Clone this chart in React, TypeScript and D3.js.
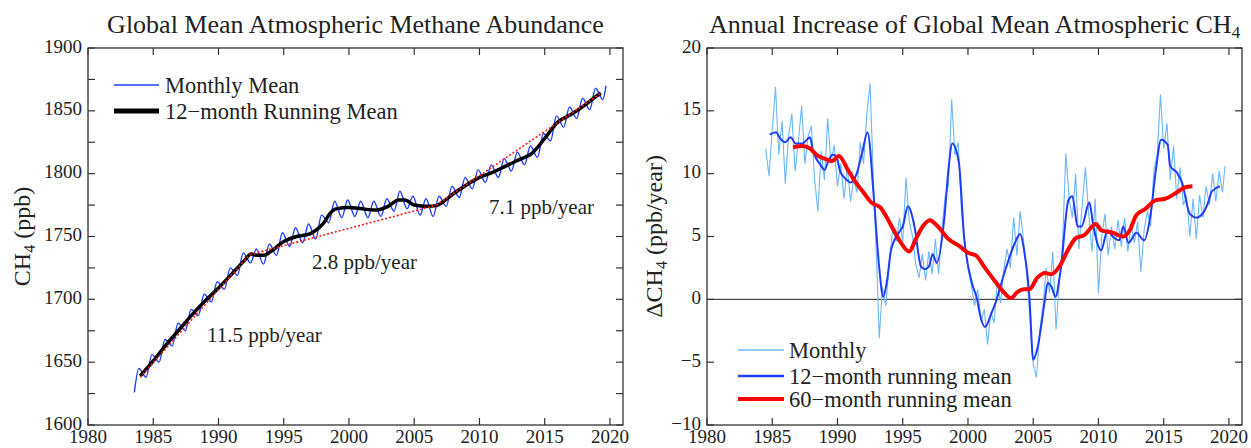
import * as d3 from 'd3';

const W = 1251;
const H = 448;
const FONT = '"Liberation Serif", "Times New Roman", serif';

// ---- left panel: global mean CH4 (ppb) ----
const ch4MonthYears = [
  1983.55, 1983.9, 1984.45, 1984.9, 1985.45, 1985.9, 1986.45, 1986.9, 1987.45, 1987.9,
  1988.45, 1988.9, 1989.45, 1989.9, 1990.45, 1990.9, 1991.45, 1991.9, 1992.45, 1992.9,
  1993.45, 1993.9, 1994.45, 1994.9, 1995.45, 1995.9, 1996.45, 1996.9, 1997.45, 1997.9,
  1998.45, 1998.9, 1999.45, 1999.9, 2000.45, 2000.9, 2001.45, 2001.9, 2002.45, 2002.9,
  2003.45, 2003.9, 2004.45, 2004.9, 2005.45, 2005.9, 2006.45, 2006.9, 2007.45, 2007.9,
  2008.45, 2008.9, 2009.45, 2009.9, 2010.45, 2010.9, 2011.45, 2011.9, 2012.45, 2012.9,
  2013.45, 2013.9, 2014.45, 2014.9, 2015.45, 2015.9, 2016.45, 2016.9, 2017.45, 2017.9,
  2018.45, 2018.9, 2019.45, 2019.7,
];
const ch4Monthly = [
  1626, 1645, 1638, 1656, 1650, 1668, 1663, 1681, 1675, 1692,
  1687, 1704, 1698, 1714, 1708, 1725, 1719, 1737, 1729, 1740,
  1728, 1744, 1735, 1753, 1742, 1757, 1745, 1760, 1748, 1767,
  1761, 1778, 1765, 1779, 1766, 1778, 1765, 1778, 1766, 1780,
  1770, 1786, 1772, 1782, 1767, 1780, 1766, 1782, 1774, 1790,
  1781, 1797, 1788, 1803, 1793, 1807, 1797, 1812, 1802, 1817,
  1807, 1822, 1813, 1832, 1826, 1846, 1837, 1853, 1844, 1860,
  1851, 1868, 1859, 1870,
];

// 12-month running mean
const ch4RunYears = [
  1984.0, 1985.0, 1986.0, 1987.0, 1988.0, 1989.0, 1990.0, 1991.0, 1992.0, 1992.5,
  1993.0, 1993.5, 1994.0, 1995.0, 1996.0, 1997.0, 1997.6, 1998.0, 1998.6, 1999.0,
  2000.0, 2001.0, 2002.0, 2003.0, 2003.8, 2004.3, 2005.0, 2006.0, 2006.8, 2007.5,
  2008.0, 2009.0, 2010.0, 2011.0, 2012.0, 2013.0, 2014.0, 2015.0, 2016.0, 2017.0,
  2018.0, 2019.0, 2019.3,
];
const ch4Running = [
  1639, 1651, 1664, 1676, 1688, 1699, 1709, 1720, 1731, 1736,
  1735, 1735, 1738, 1746, 1750, 1752, 1756, 1760, 1769, 1772,
  1773, 1772, 1771, 1774, 1779, 1779, 1775, 1774, 1775, 1780,
  1784, 1791, 1797, 1801, 1806, 1811, 1816, 1828, 1841, 1847,
  1854, 1862, 1864,
];

// linear trend segments (red dotted)
const trendYears = [1984.0, 1992.4, 2006.7, 2019.3];
const trendValues = [1638, 1735.5, 1775, 1864];
const trendLabels = ['11.5 ppb/year', '2.8 ppb/year', '7.1 ppb/year'];

// ---- right panel: annual increase (ppb/year) ----
const rateMonthYears = [
  1984.5, 1984.75, 1985.0, 1985.25, 1985.5, 1985.75, 1986.0, 1986.25, 1986.5, 1986.75,
  1987.0, 1987.25, 1987.5, 1987.75, 1988.0, 1988.25, 1988.5, 1988.75, 1989.0, 1989.25,
  1989.5, 1989.75, 1990.0, 1990.25, 1990.5, 1990.75, 1991.0, 1991.25, 1991.5, 1991.75,
  1992.0, 1992.25, 1992.5, 1992.75, 1993.0, 1993.2, 1993.45, 1993.7, 1994.0, 1994.25,
  1994.5, 1994.75, 1995.0, 1995.25, 1995.5, 1995.75, 1996.0, 1996.25, 1996.5, 1996.75,
  1997.0, 1997.25, 1997.5, 1997.75, 1998.0, 1998.25, 1998.5, 1998.75, 1999.0, 1999.25,
  1999.5, 1999.75, 2000.0, 2000.25, 2000.5, 2000.75, 2001.0, 2001.25, 2001.5, 2001.75,
  2002.0, 2002.25, 2002.5, 2002.75, 2003.0, 2003.25, 2003.5, 2003.75, 2004.0, 2004.25,
  2004.5, 2004.75, 2005.0, 2005.25, 2005.5, 2005.75, 2006.0, 2006.25, 2006.5, 2006.75,
  2007.0, 2007.25, 2007.5, 2007.75, 2008.0, 2008.25, 2008.5, 2008.75, 2009.0, 2009.25,
  2009.5, 2009.75, 2010.0, 2010.25, 2010.5, 2010.75, 2011.0, 2011.25, 2011.5, 2011.75,
  2012.0, 2012.25, 2012.5, 2012.75, 2013.0, 2013.25, 2013.5, 2013.75, 2014.0, 2014.25,
  2014.5, 2014.75, 2015.0, 2015.25, 2015.5, 2015.75, 2016.0, 2016.25, 2016.5, 2016.75,
  2017.0, 2017.25, 2017.5, 2017.75, 2018.0, 2018.25, 2018.5, 2018.75, 2019.0, 2019.25,
  2019.5, 2019.7,
];
const rateMonthly = [
  12.0, 9.8, 13.5, 16.9, 11.5, 14.2, 9.2, 13.0, 14.8, 10.2,
  12.5, 15.4, 10.8, 13.0, 13.8, 9.5, 7.0, 11.8, 9.5, 14.4,
  10.8, 12.3, 9.0, 10.8, 8.0, 10.5, 7.8, 9.6, 8.5, 12.5,
  10.8, 14.8, 17.2, 9.5, 3.0, -3.1, 1.0, -0.5, 3.2, 5.8,
  4.6, 6.5, 4.5, 9.7, 6.2, 5.0, 2.8, 1.7, 3.6, 1.5,
  3.8, 2.0, 4.8, 2.0, 5.5, 8.2, 9.0, 15.9, 11.5, 12.5,
  7.0, 4.5, 2.5, 1.2, -0.5, 0.8, -1.8, -0.8, -3.6, -1.0,
  -1.9, 1.5, -0.3, 2.4, 4.0, 2.5, 6.5, 3.5, 7.0, 4.8,
  2.0, -1.5, -5.2, -6.2, -2.5, -0.5, 2.5, 0.5, 3.8, -2.4,
  1.5, 4.5, 11.6, 8.0, 6.5, 10.0, 4.0, 7.5, 10.5, 6.8,
  3.8, 8.0, 0.5, 5.0, 6.8, 3.5, 5.8, 4.0, 6.3, 4.2,
  6.5, 3.8, 6.0, 4.5, 6.2, 2.2, 5.5, 7.0, 5.8, 10.3,
  11.5, 16.3, 12.0, 14.0, 9.5, 12.2, 8.0, 10.5, 7.5, 8.2,
  5.0, 8.0, 4.8, 8.3, 6.5, 9.0, 7.5, 10.0, 7.8, 10.2,
  8.5, 10.6,
];

const rate12Years = [
  1984.8, 1985.3, 1985.6, 1986.0, 1986.4, 1986.8, 1987.3, 1987.9, 1988.1, 1988.7,
  1989.0, 1989.3, 1989.6, 1989.9, 1990.2, 1990.6, 1991.0, 1991.4, 1991.9, 1992.3,
  1992.8, 1993.2, 1993.5, 1993.8, 1994.1, 1994.7, 1995.0, 1995.4, 1995.9, 1996.4,
  1996.7, 1997.0, 1997.3, 1997.6, 1998.2, 1998.5, 1998.8, 1999.3, 1999.7, 2000.3,
  2000.7, 2000.9, 2001.3, 2001.8, 2002.2, 2002.7, 2003.1, 2003.6, 2004.0, 2004.3,
  2004.7, 2005.0, 2005.3, 2005.9, 2006.1, 2006.4, 2006.7, 2007.1, 2007.7, 2008.0,
  2008.4, 2008.7, 2009.3, 2009.6, 2010.2, 2010.7, 2011.1, 2011.6, 2011.9, 2012.3,
  2012.9, 2013.5, 2014.0, 2014.4, 2014.8, 2015.3, 2015.5, 2016.0, 2016.4, 2017.0,
  2017.5, 2018.1, 2018.4, 2018.7, 2019.3,
];
const rate12 = [
  13.1, 13.3, 12.8, 12.5, 12.9, 12.4, 12.4, 12.9, 11.9, 10.7,
  10.3, 11.0, 11.5, 11.4, 10.2, 9.6, 9.3, 9.8, 11.7, 13.3,
  7.9, 2.5, 0.2, 1.5, 3.9, 5.3, 5.8, 7.4, 5.8, 2.6,
  2.4, 2.6, 3.6, 2.9, 6.6, 10.3, 12.4, 10.9, 5.0, 1.3,
  0.0, -1.1, -2.2, -1.1, 0.0, 1.8, 3.1, 4.5, 5.2, 3.9,
  0.3, -4.8, -4.0, 0.0, 1.3, 1.0, 0.2, 2.3, 7.9, 8.2,
  5.8, 5.8, 7.7, 5.9, 3.9, 5.5, 5.0, 4.7, 5.8, 4.5,
  5.3, 4.7, 6.8, 10.3, 12.7, 12.3, 10.6, 10.1, 9.3, 6.8,
  6.5, 7.0, 7.7, 8.6, 9.0,
];

const rate60Years = [
  1986.6, 1987.3, 1987.9, 1988.4, 1989.0, 1989.6, 1990.1, 1990.8, 1991.4, 1992.0,
  1992.6, 1993.3, 1994.1, 1994.8, 1995.5, 1996.0, 1996.6, 1997.1, 1997.6, 1998.5,
  1999.4, 2000.0, 2000.6, 2001.3, 2002.1, 2002.8, 2003.3, 2003.8, 2004.3, 2004.7,
  2005.3, 2005.9, 2006.4, 2007.0, 2007.7, 2008.3, 2008.9, 2009.8, 2010.2, 2011.1,
  2011.9, 2012.4, 2012.9, 2013.6, 2014.4, 2015.1, 2016.0, 2016.6, 2017.2,
];
const rate60 = [
  12.1, 12.2, 12.0, 11.5, 11.2, 11.0, 11.4, 10.3, 9.3, 8.5,
  7.7, 7.3, 5.9, 4.6, 3.8, 4.8, 5.9, 6.3, 5.9, 4.8,
  4.2, 3.7, 3.5, 2.5, 1.4, 0.5, 0.1, 0.6, 0.8, 0.8,
  1.7, 2.1, 2.0, 2.6, 4.0, 4.9, 5.1, 6.0, 5.5, 5.3,
  5.0, 5.5, 6.7, 7.2, 7.9, 8.0, 8.5, 8.9, 9.0,
];

const xTicks = [1980, 1985, 1990, 1995, 2000, 2005, 2010, 2015, 2020];
const leftYLabels = [1600, 1650, 1700, 1750, 1800, 1850, 1900];
const rightYLabels = [-10, -5, 0, 5, 10, 15, 20];

const TICK = 7;
const FRAME = '#333';
const INK = '#222';

const zip = (xs: number[], ys: number[]) => xs.map((x, i) => [x, ys[i]] as [number, number]);
const fmtMinus = (v: number) => (v < 0 ? '\u2212' + Math.abs(v) : String(v));

function Frame({ x, y, yTicks, yLabels, fmt }: any) {
  const [x0, x1] = x.range();
  const [y0, y1] = y.range();
  return (
    <g fontFamily={FONT}>
      <rect x={x0} y={y1} width={x1 - x0} height={y0 - y1} fill="none" stroke={FRAME} strokeWidth={1.3} />
      {xTicks.map(t => (
        <g key={'x' + t}>
          <line x1={x(t)} x2={x(t)} y1={y0} y2={y0 - TICK} stroke={FRAME} strokeWidth={1.2} />
          <line x1={x(t)} x2={x(t)} y1={y1} y2={y1 + TICK} stroke={FRAME} strokeWidth={1.2} />
          <text x={x(t)} y={443} textAnchor="middle" fontSize={19} fill={INK}>{t}</text>
        </g>
      ))}
      {yTicks.map((t: number) => (
        <g key={'y' + t}>
          <line x1={x0} x2={x0 + TICK} y1={y(t)} y2={y(t)} stroke={FRAME} strokeWidth={1.2} />
          <line x1={x1} x2={x1 - TICK} y1={y(t)} y2={y(t)} stroke={FRAME} strokeWidth={1.2} />
        </g>
      ))}
      {yLabels.map((t: number) => (
        <text key={'l' + t} x={x0 - 6} y={y(t) - 2} dy="0.35em" textAnchor="end" fontSize={19} fill={INK}>
          {fmt(t)}
        </text>
      ))}
    </g>
  );
}

export default function App() {
  const xL = d3.scaleLinear().domain([1980, 2021]).range([88, 623]);
  const yL = d3.scaleLinear().domain([1600, 1900]).range([425, 48]);
  const xR = d3.scaleLinear().domain([1980, 2021]).range([707, 1242]);
  const yR = d3.scaleLinear().domain([-10, 20]).range([425, 48]);

  const lineL = d3.line<[number, number]>().x(d => xL(d[0])).y(d => yL(d[1]));
  const smoothL = d3.line<[number, number]>().x(d => xL(d[0])).y(d => yL(d[1])).curve(d3.curveMonotoneX);
  const lineR = d3.line<[number, number]>().x(d => xR(d[0])).y(d => yR(d[1]));
  const smoothR = d3.line<[number, number]>().x(d => xR(d[0])).y(d => yR(d[1])).curve(d3.curveMonotoneX);

  const trendSegs = trendLabels.map((_, i) => [
    [trendYears[i], trendValues[i]],
    [trendYears[i + 1], trendValues[i + 1]],
  ] as [number, number][]);
  const labelPos = [
    { x: 207, y: 335 },
    { x: 312, y: 262 },
    { x: 489, y: 207 },
  ];

  return (
    <div style={{ position: 'absolute', left: 0, top: 0 }}>
      <svg width={W} height={H} style={{ display: 'block', background: '#fff' }} fontFamily={FONT}>
        {/* left panel */}
        <text x={(88 + 623) / 2} y={33} textAnchor="middle" fontSize={26} fill={INK}>
          Global Mean Atmospheric Methane Abundance
        </text>
        <text transform={`translate(30,${(48 + 425) / 2}) rotate(-90)`} textAnchor="middle" fontSize={24} fill={INK}>
          CH<tspan fontSize={16} dy={5}>4</tspan><tspan dy={-5}> (ppb)</tspan>
        </text>
        <path d={smoothL(zip(ch4MonthYears, ch4Monthly)) || ''} fill="none" stroke="#1f3dff" strokeWidth={1.4} />
        <path d={smoothL(zip(ch4RunYears, ch4Running)) || ''} fill="none" stroke="#000" strokeWidth={3.5} strokeLinejoin="round" />
        {trendSegs.map((s, i) => (
          <path key={i} d={lineL(s) || ''} fill="none" stroke="#ff1a1a" strokeWidth={1.6} strokeDasharray="2,2" />
        ))}
        {trendLabels.map((t, i) => (
          <text key={t} x={labelPos[i].x} y={labelPos[i].y} dy="0.35em" fontSize={21} fill={INK}>{t}</text>
        ))}
        <Frame x={xL} y={yL} yTicks={d3.range(1600, 1901, 25)} yLabels={leftYLabels} fmt={(v: number) => String(v)} />
        <line x1={114} x2={159} y1={85} y2={85} stroke="#1f3dff" strokeWidth={1.5} />
        <text x={165} y={85} dy="0.35em" fontSize={22.5} fill={INK}>Monthly Mean</text>
        <line x1={114} x2={159} y1={111} y2={111} stroke="#000" strokeWidth={5} />
        <text x={165} y={111} dy="0.35em" fontSize={22.5} fill={INK}>12{'\u2212'}month Running Mean</text>

        {/* right panel */}
        <text x={(707 + 1242) / 2} y={33} textAnchor="middle" fontSize={26} fill={INK}>
          Annual Increase of Global Mean Atmospheric CH<tspan fontSize={17} dy={5}>4</tspan>
        </text>
        <text transform={`translate(662,${(48 + 425) / 2}) rotate(-90)`} textAnchor="middle" fontSize={24} fill={INK}>
          {'\u0394'}CH<tspan fontSize={16} dy={5}>4</tspan><tspan dy={-5}> (ppb/year)</tspan>
        </text>
        <line x1={707} x2={1242} y1={yR(0)} y2={yR(0)} stroke={INK} strokeWidth={1} />
        <path d={lineR(zip(rateMonthYears, rateMonthly)) || ''} fill="none" stroke="#6ab8ff" strokeWidth={1.1} />
        <path d={smoothR(zip(rate12Years, rate12)) || ''} fill="none" stroke="#1f3dff" strokeWidth={2} />
        <path d={smoothR(zip(rate60Years, rate60)) || ''} fill="none" stroke="#ff0000" strokeWidth={4} strokeLinejoin="round" />
        <Frame x={xR} y={yR} yTicks={rightYLabels} yLabels={rightYLabels} fmt={fmtMinus} />
        <line x1={738} x2={784} y1={350} y2={350} stroke="#6ab8ff" strokeWidth={1.5} />
        <text x={789} y={350} dy="0.35em" fontSize={22.5} fill={INK}>Monthly</text>
        <line x1={738} x2={784} y1={376} y2={376} stroke="#1f3dff" strokeWidth={2.5} />
        <text x={789} y={376} dy="0.35em" fontSize={22.5} fill={INK}>12{'\u2212'}month running mean</text>
        <line x1={738} x2={784} y1={399} y2={399} stroke="#ff0000" strokeWidth={4} />
        <text x={789} y={399} dy="0.35em" fontSize={22.5} fill={INK}>60{'\u2212'}month running mean</text>
      </svg>
    </div>
  );
}
